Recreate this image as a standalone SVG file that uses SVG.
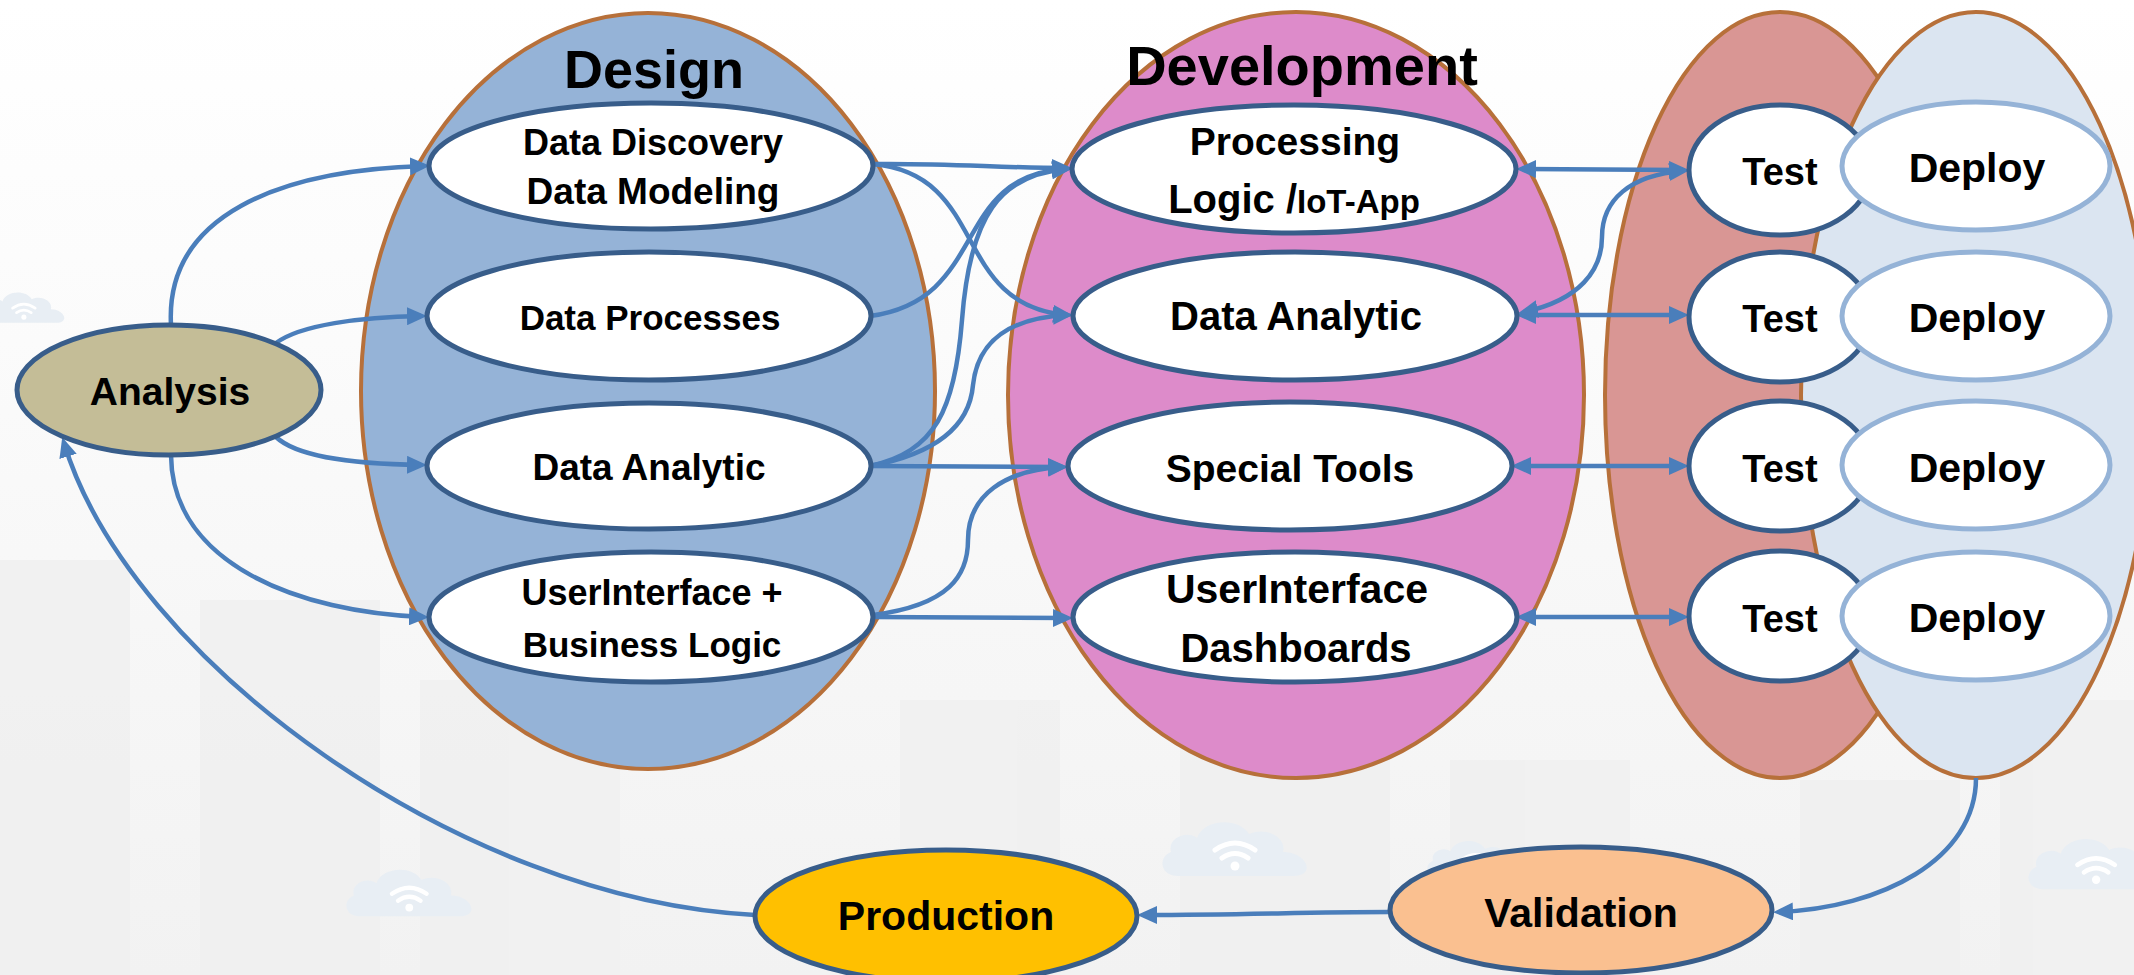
<svg xmlns="http://www.w3.org/2000/svg" width="2134" height="975" viewBox="0 0 2134 975">
<defs>
<style>
.t{font-family:"Liberation Sans",Arial,sans-serif;font-weight:bold;fill:#000;text-anchor:middle}
.big{stroke:#b7703a;stroke-width:4}
.sn{fill:#fff;stroke:#385d8a;stroke-width:5}
.dn{fill:#fff;stroke:#95b3d7;stroke-width:5}
.c{fill:none;stroke:#4a7ebb;stroke-width:4.5}
.c1{marker-end:url(#arr)}
.c2{marker-start:url(#arr);marker-end:url(#arr)}
</style>
<marker id="arr" viewBox="0 0 20 18" refX="14" refY="9" markerWidth="20" markerHeight="18" markerUnits="userSpaceOnUse" orient="auto-start-reverse">
<path d="M0,0 L20,9 L0,18 z" fill="#4a7ebb"/>
</marker>
<linearGradient id="bg" x1="0" y1="0" x2="0" y2="1">
<stop offset="0" stop-color="#ffffff"/>
<stop offset="0.35" stop-color="#fbfbfb"/>
<stop offset="1" stop-color="#f2f2f2"/>
</linearGradient>
<symbol id="cloud" viewBox="0 0 160 60">
<path d="M20,58 C4,58 0,40 14,34 C10,20 30,12 40,20 C46,2 80,-2 92,16 C110,8 130,20 126,34 C150,34 160,58 136,58 Z" fill="#e8eef4"/>
<path d="M58,32 Q78,18 98,32 M65,40 Q78,31 91,40" fill="none" stroke="#ffffff" stroke-width="5" stroke-linecap="round"/>
<circle cx="78" cy="48" r="4.5" fill="#ffffff"/>
</symbol>
</defs>

<g id="background">
<rect x="0" y="0" width="2134" height="975" fill="url(#bg)"/>
<g fill="#f0f0f0" opacity="0.8">
<rect x="0" y="560" width="130" height="415"/>
<rect x="200" y="600" width="180" height="375"/>
<rect x="420" y="680" width="200" height="295"/>
<rect x="900" y="700" width="160" height="275"/>
<rect x="1180" y="690" width="210" height="285"/>
<rect x="1450" y="760" width="180" height="215"/>
<rect x="1800" y="780" width="160" height="195"/>
<rect x="2000" y="700" width="134" height="275"/>
</g>
<use href="#cloud" x="1157" y="818" width="160" height="60"/>
<use href="#cloud" x="341" y="866" width="140" height="52"/>
<use href="#cloud" x="1422" y="838" width="110" height="40"/>
<use href="#cloud" x="2023" y="835" width="150" height="56"/>
<use href="#cloud" x="-20" y="290" width="90" height="34"/>
</g>

<g id="design">
<ellipse cx="648" cy="391" rx="287" ry="378" fill="#95b3d7" class="big"/>
<text class="t" x="654" y="88" font-size="54">Design</text>
</g>
<g id="development">
<ellipse cx="1296" cy="395" rx="288" ry="383" fill="#dd8bca" class="big"/>
<text class="t" x="1302" y="85" font-size="56">Development</text>
</g>
<g id="test-stage">
<ellipse cx="1780" cy="395" rx="175" ry="383" fill="#d99694" class="big"/>
</g>
<g id="deploy-stage">
<ellipse cx="1976" cy="395" rx="175" ry="383" fill="#dbe5f1" class="big"/>
</g>

<g id="connectors">
<path class="c c1" d="M171,325 C165,215 280,170 424,166"/>
<path class="c c1" d="M276,343 C300,325 360,317 421,316"/>
<path class="c c1" d="M276,437 C296,456 350,464 421,465"/>
<path class="c c1" d="M171,455 C172,565 300,612 423,617"/>
<path class="c c1" d="M755,915 C460,900 130,660 64,443"/>
<path class="c c1" d="M873,164 C950,163 1000,168 1066,168"/>
<path class="c c1" d="M873,164 C990,175 950,305 1067,315"/>
<path class="c c1" d="M870,316 C990,300 950,175 1066,169"/>
<path class="c c1" d="M870,466 C935,452 955,410 962,320 C970,215 1000,175 1066,169"/>
<path class="c c1" d="M870,466 C945,452 970,420 973,385 C978,340 1010,318 1067,315"/>
<path class="c c1" d="M870,466 L1062,467"/>
<path class="c c1" d="M873,615 C950,605 968,575 968,540 C968,495 1005,470 1062,467"/>
<path class="c c1" d="M873,617 L1067,618"/>
<path class="c c2" d="M1522,169 L1683,170"/>
<path class="c c2" d="M1522,315 L1683,315"/>
<path class="c c2" d="M1517,466 L1683,466"/>
<path class="c c2" d="M1522,617 L1683,617"/>
<path class="c c2" d="M1524,312 C1580,300 1602,270 1602,237 C1602,200 1630,175 1683,171"/>
<path class="c c1" d="M1976,778 C1976,860 1880,908 1779,912"/>
<path class="c c1" d="M1390,912 C1300,912 1250,915 1143,915"/>
</g>

<g id="analysis">
<ellipse cx="169" cy="390" rx="152" ry="65" fill="#c4bd97" stroke="#385d8a" stroke-width="5"/>
<text class="t" x="170" y="405" font-size="39">Analysis</text>
</g>
<g id="data-discovery">
<ellipse cx="651" cy="166" rx="222" ry="63" class="sn"/>
<text class="t" x="653" y="155" font-size="36">Data Discovery</text>
<text class="t" x="653" y="204" font-size="37">Data Modeling</text>
</g>
<g id="data-processes">
<ellipse cx="649" cy="316" rx="222" ry="64" class="sn"/>
<text class="t" x="650" y="330" font-size="35">Data Processes</text>
</g>
<g id="data-analytic-design">
<ellipse cx="649" cy="466" rx="222" ry="63" class="sn"/>
<text class="t" x="649" y="480" font-size="37">Data Analytic</text>
</g>
<g id="ui-business-logic">
<ellipse cx="651" cy="617" rx="222" ry="65" class="sn"/>
<text class="t" x="652" y="605" font-size="36">UserInterface +</text>
<text class="t" x="652" y="657" font-size="35">Business Logic</text>
</g>

<g id="processing-logic">
<ellipse cx="1294" cy="169" rx="222" ry="64" class="sn"/>
<text class="t" x="1295" y="155" font-size="39">Processing</text>
<text class="t" x="1294" y="213"><tspan font-size="40">Logic /</tspan><tspan font-size="33">IoT-App</tspan></text>
</g>
<g id="data-analytic-dev">
<ellipse cx="1295" cy="316" rx="222" ry="64" class="sn"/>
<text class="t" x="1296" y="330" font-size="40">Data Analytic</text>
</g>
<g id="special-tools">
<ellipse cx="1290" cy="466" rx="222" ry="64" class="sn"/>
<text class="t" x="1290" y="482" font-size="39">Special Tools</text>
</g>
<g id="ui-dashboards">
<ellipse cx="1295" cy="617" rx="222" ry="65" class="sn"/>
<text class="t" x="1297" y="603" font-size="41">UserInterface</text>
<text class="t" x="1296" y="662" font-size="40">Dashboards</text>
</g>

<g id="test-1"><ellipse cx="1780" cy="170" rx="91" ry="65" class="sn"/><text class="t" x="1780" y="185" font-size="38">Test</text></g>
<g id="test-2"><ellipse cx="1780" cy="317" rx="91" ry="65" class="sn"/><text class="t" x="1780" y="332" font-size="38">Test</text></g>
<g id="test-3"><ellipse cx="1780" cy="466" rx="91" ry="65" class="sn"/><text class="t" x="1780" y="482" font-size="38">Test</text></g>
<g id="test-4"><ellipse cx="1780" cy="616" rx="91" ry="65" class="sn"/><text class="t" x="1780" y="632" font-size="38">Test</text></g>

<g id="deploy-1"><ellipse cx="1976" cy="166" rx="134" ry="64" class="dn"/><text class="t" x="1977" y="182" font-size="41">Deploy</text></g>
<g id="deploy-2"><ellipse cx="1976" cy="316" rx="134" ry="64" class="dn"/><text class="t" x="1977" y="332" font-size="41">Deploy</text></g>
<g id="deploy-3"><ellipse cx="1976" cy="465" rx="134" ry="64" class="dn"/><text class="t" x="1977" y="482" font-size="41">Deploy</text></g>
<g id="deploy-4"><ellipse cx="1976" cy="616" rx="134" ry="64" class="dn"/><text class="t" x="1977" y="632" font-size="41">Deploy</text></g>

<g id="production">
<ellipse cx="946" cy="916" rx="191" ry="66" fill="#ffc000" stroke="#385d8a" stroke-width="5"/>
<text class="t" x="946" y="930" font-size="41">Production</text>
</g>
<g id="validation">
<ellipse cx="1581" cy="910" rx="191" ry="63" fill="#fac090" stroke="#385d8a" stroke-width="5"/>
<text class="t" x="1581" y="927" font-size="41">Validation</text>
</g>
</svg>
